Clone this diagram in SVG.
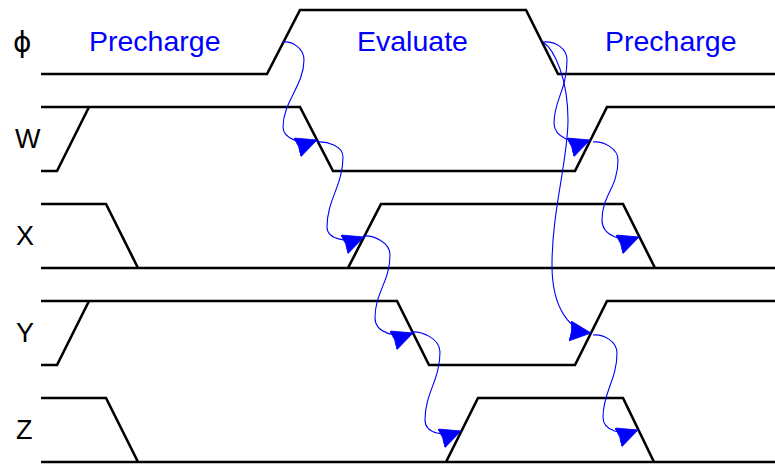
<svg xmlns="http://www.w3.org/2000/svg" width="775" height="466" viewBox="0 0 775 466">
<style>
.sig{fill:none;stroke:#000;stroke-width:2.6;stroke-linejoin:miter;stroke-linecap:butt}
.lbl{font-family:'Liberation Sans','DejaVu Sans',sans-serif;font-size:27px;fill:#000}
.phi{font-family:'DejaVu Sans','Liberation Sans',sans-serif;font-size:28px;fill:#000}
.ph{font-family:'Liberation Sans','DejaVu Sans',sans-serif;font-size:28.5px;fill:#0000ff}
.arr{fill:none;stroke:#0000ff;stroke-width:1.1}
</style>
<defs>
<marker id="ah" markerUnits="userSpaceOnUse" markerWidth="24" markerHeight="22" refX="21" refY="10" orient="auto" viewBox="0 0 24 22">
<path d="M0,0 L21,10 L0,20 L1.5,10 Z" fill="#0000ff" stroke="#0000ff" stroke-width="0.8" stroke-linejoin="round"/>
</marker>
</defs>
<rect width="775" height="466" fill="#fff"/>
<g id="phases">
<text class="ph" x="89" y="51">Precharge</text>
<text class="ph" x="357" y="51">Evaluate</text>
<text class="ph" x="605" y="51">Precharge</text>
</g>
<g id="sig-phi">
<text class="phi" x="13" y="52">ϕ</text>
<path class="sig" d="M41,74 L267,74 L300,10 L526,10 L558,74 L775,74"/>
</g>
<g id="sig-W">
<text class="lbl" x="15" y="148">W</text>
<path class="sig" d="M41,107 L300,107 L333,171 L575,171 L607,107 L775,107"/>
<path class="sig" d="M41,171 L57,171 L89,107"/>
</g>
<g id="sig-X">
<text class="lbl" x="16" y="245">X</text>
<path class="sig" d="M41,204 L106,204 L138,268"/>
<path class="sig" d="M41,268 L775,268"/>
<path class="sig" d="M348,268 L381,204 L623,204 L655,268"/>
</g>
<g id="sig-Y">
<text class="lbl" x="16" y="342">Y</text>
<path class="sig" d="M41,301 L397,301 L429,365 L575,365 L607,301 L775,301"/>
<path class="sig" d="M41,365 L57,365 L89,301"/>
</g>
<g id="sig-Z">
<text class="lbl" x="16" y="439">Z</text>
<path class="sig" d="M41,398 L106,398 L138,462"/>
<path class="sig" d="M41,462 L775,462"/>
<path class="sig" d="M446,462 L478,398 L623,398 L654,462"/>
</g>
<g id="connectors">
<path class="arr" marker-end="url(#ah)" d="M283,42 C292,41 304,48 304,60 C304,85 283,102 283,127 C283,138 301,146 317,140"/>
<path class="arr" marker-end="url(#ah)" d="M317,142 C327,141 343,146 343,157 C343,185 327,200 327,227 C327,240 348,243 364,237"/>
<path class="arr" marker-end="url(#ah)" d="M363,236 C373,235 390,242 390,255 C390,282 375,292 375,318 C375,333 397,339 413,333"/>
<path class="arr" marker-end="url(#ah)" d="M411,332 C421,331 440,338 440,352 C440,380 425,393 425,420 C425,434 445,437 461,431"/>
<path class="arr" marker-end="url(#ah)" d="M543,42 C555,41 567,48 567,60 C567,90 554,100 554,123 C554,137 574,146 590,140"/>
<path class="arr" marker-end="url(#ah)" d="M543,42 C555,50 568,80 568,120 C568,160 552,210 552,265 C552,310 571,331 591,333"/>
<path class="arr" marker-end="url(#ah)" d="M593,142 C603,141 618,148 618,160 C618,188 602,195 602,220 C602,236 623,243 639,237"/>
<path class="arr" marker-end="url(#ah)" d="M593,335 C603,334 617,341 617,353 C617,380 603,392 603,417 C603,431 622,436 638,430"/>
</g>
</svg>
